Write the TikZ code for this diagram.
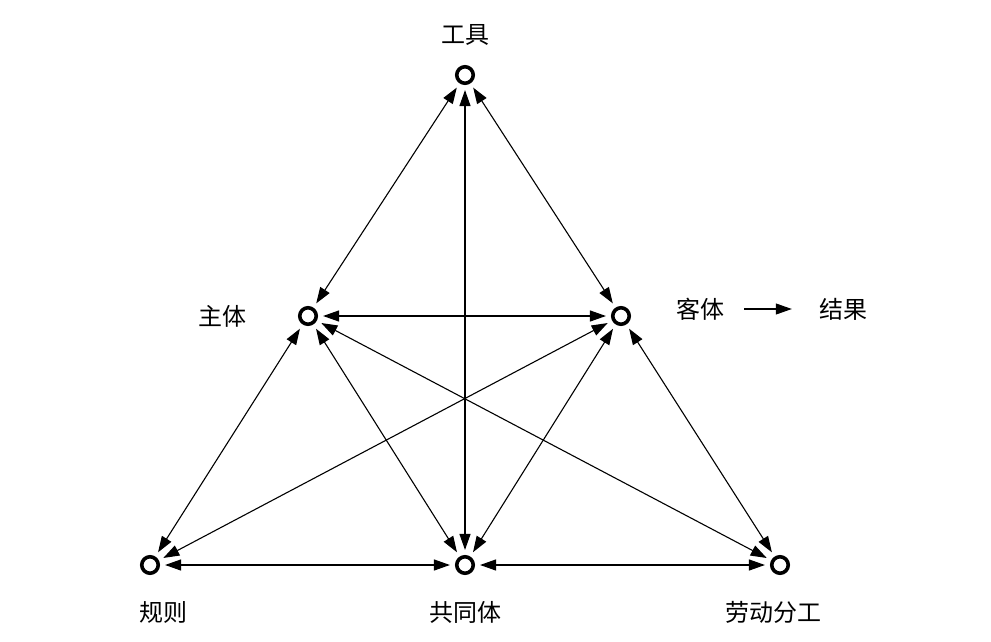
\documentclass[tikz,border=0pt]{standalone}
\usepackage{fontspec}
\newfontfamily\cjk{Noto Sans CJK SC}
\usetikzlibrary{arrows.meta}

\tikzset{
  pnt/.style={circle,draw,line width=3.6pt,minimum size=16.5pt,inner sep=0pt},
  lbl/.style={font=\cjk\fontsize{24}{28}\selectfont,inner sep=0pt},
  link/.style={line width=1.1pt,{Triangle[length=16pt,width=11pt]}-{Triangle[length=16pt,width=11pt]},shorten <=5pt,shorten >=5pt},
}

\begin{document}
\begin{tikzpicture}[x=1pt,y=-1pt]
% 991 x 642 canvas
\useasboundingbox (0,0) rectangle (991,642);
\node[pnt] (tool) at (465,75) {};
\node[pnt] (subj) at (308,316) {};
\node[pnt] (obj) at (621,316) {};
\node[pnt] (rule) at (150,565) {};
\node[pnt] (comm) at (465,565) {};
\node[pnt] (div) at (780,565) {};
\node[lbl] (toolL) at (465,35) {工具};
\node[lbl] (subjL) at (222,316) {主体};
\node[lbl] (objL) at (700,309) {客体};
\node[lbl] (outL) at (843,309) {结果};
\node[lbl] (ruleL) at (163,612) {规则};
\node[lbl] (commL) at (465,612) {共同体};
\node[lbl] (divL) at (773,612) {劳动分工};
\draw[link] (tool) -- (subj);
\draw[link] (tool) -- (obj);
\draw[link] (tool) -- (comm);
\draw[link] (subj) -- (obj);
\draw[link] (subj) -- (rule);
\draw[link] (subj) -- (comm);
\draw[link] (subj) -- (div);
\draw[link] (obj) -- (rule);
\draw[link] (obj) -- (comm);
\draw[link] (obj) -- (div);
\draw[link] (rule) -- (comm);
\draw[link] (comm) -- (div);
\draw[line width=1.1pt,-{Triangle[length=16pt,width=11pt]},shorten <=20pt,shorten >=27pt] (objL) -- (outL);
\end{tikzpicture}
\end{document}
